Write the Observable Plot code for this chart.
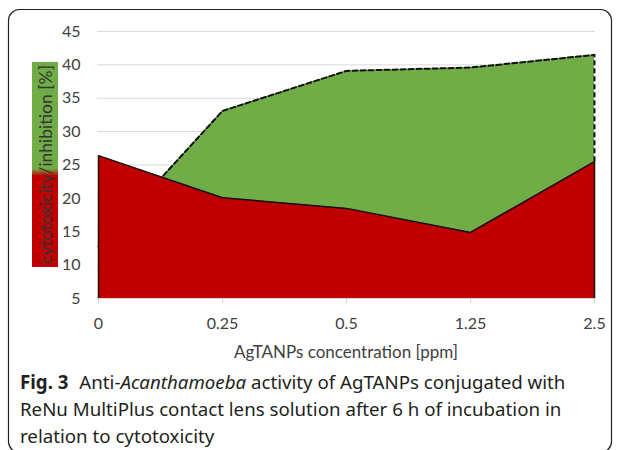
<!DOCTYPE html>
<html>
<head>
<meta charset="utf-8">
<script src="https://cdn.jsdelivr.net/npm/d3@7"></script>
<script src="https://cdn.jsdelivr.net/npm/@observablehq/plot@0.6"></script>
<style>
  html, body { margin: 0; padding: 0; background: #fff; }
  #root { position: relative; width: 624px; height: 450px; overflow: hidden; background: #fff; }
  #chart { position: absolute; left: 0; top: 0; }
  #ylabel {
    position: absolute; left: 32px; top: 62px; width: 26px; height: 205px;
    background: linear-gradient(to bottom, #70ad47 0%, #70ad47 52%, #c00000 55.5%, #c00000 100%);
    display: flex; align-items: center; justify-content: center;
  }
  #ylabel span {
    writing-mode: vertical-rl; transform: rotate(180deg);
    font-family: Lato, sans-serif; font-size: 17.5px; color: #333; white-space: nowrap;
  }
  #xlabel {
    position: absolute; left: 97px; width: 498px; top: 341px; text-align: center;
    font-family: Lato, sans-serif; font-size: 17px; color: #404040;
  }
  #caption {
    position: absolute; left: 20px; top: 368px; width: 600px;
    font-family: "Noto Sans", sans-serif; font-size: 18.7px; line-height: 27px; color: #231f20; white-space: nowrap;
  }
  #caption b { font-weight: 700; margin-right: 6px; }
  #frame { position: absolute; left: 0; top: 0; pointer-events: none; }
</style>
</head>
<body>
<div id="root">
  <div id="chart"></div>
  <div id="ylabel"><span>cytotoxicity/inhibition [%]</span></div>
  <div id="xlabel">AgTANPs concentration [ppm]</div>
  <div id="caption"><b>Fig. 3</b> Anti-<i>Acanthamoeba</i> activity of AgTANPs conjugated with<br>ReNu MultiPlus contact lens solution after 6 h of incubation in<br>relation to cytotoxicity</div>
  <svg id="frame" width="624" height="450"><rect x="8.5" y="9.5" width="603" height="443" rx="11" ry="11" fill="none" stroke="#222" stroke-width="1.2"/></svg>
</div>
<script>
const concentrations = ["0", "0.25", "0.5", "1.25", "2.5"];
const cytotoxicity = [26.4, 20.1, 18.5, 14.9, 25.5];
const inhibition = [12.8, 33.1, 39.1, 39.6, 41.5];
const yTicks = [5, 10, 15, 20, 25, 30, 35, 40, 45];
const yMin = 5;

const green = "#70ad47";
const red = "#c00000";

const inhibitionData = concentrations.map((c, i) => ({x: c, y: inhibition[i]}));
const cytoData = concentrations.map((c, i) => ({x: c, y: cytotoxicity[i]}));
const last = concentrations.length - 1;

// red outline: left side, top edge, right side
const cytoOutline = [{x: concentrations[0], y: yMin}, ...cytoData, {x: concentrations[last], y: yMin}];

const chart = Plot.plot({
  width: 624,
  height: 330,
  marginLeft: 97,
  marginRight: 29,
  marginTop: 31,
  marginBottom: 32,
  style: {fontFamily: "Lato, sans-serif", fontSize: "16px", background: "transparent", overflow: "visible"},
  x: {type: "point", domain: concentrations, padding: 0, label: null},
  y: {domain: [5, 45], label: null},
  marks: [
    Plot.gridY(yTicks.filter(d => d > yMin), {stroke: "#d9d9d9", strokeOpacity: 1, strokeWidth: 1}),
    Plot.areaY(inhibitionData, {x: "x", y1: yMin, y2: "y", fill: green, curve: "linear"}),
    // dashed top edge of the inhibition area (clipped to the frame)
    Plot.line(inhibitionData, {x: "x", y: "y", stroke: "#111", strokeWidth: 2, strokeDasharray: "5,3", curve: "linear", clip: true}),
    // dashed right side of the inhibition area
    Plot.ruleX([concentrations[last]], {y1: cytotoxicity[last], y2: inhibition[last], stroke: "#111", strokeWidth: 2, strokeDasharray: "5,3"}),
    Plot.areaY(cytoData, {x: "x", y1: yMin, y2: "y", fill: red, curve: "linear"}),
    Plot.line(cytoOutline, {x: "x", y: "y", stroke: "#111", strokeWidth: 1.5, curve: "linear"}),
    Plot.ruleY([yMin], {stroke: "#d0d0d0", strokeWidth: 1}),
    Plot.axisY({ticks: yTicks, tickSize: 0, tickPadding: 17, fill: "#404040", fontSize: 16, label: null}),
    Plot.axisX({tickSize: 5, tickPadding: 14, stroke: "#cfcfcf", fill: "#404040", fontSize: 16, label: null})
  ]
});
document.getElementById("chart").appendChild(chart);
</script>
</body>
</html>
